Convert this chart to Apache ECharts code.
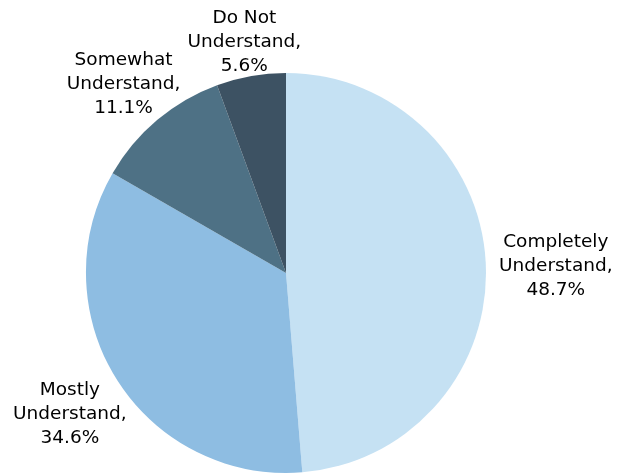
<!DOCTYPE html>
<html>
<head>
<meta charset="utf-8">
<script src="https://cdn.jsdelivr.net/npm/echarts@6/dist/echarts.min.js"></script>
<style>html,body{margin:0;padding:0;background:#fff}#c{width:625px;height:475px}</style>
</head>
<body>
<div id="c"></div>
<script>
const categories = ['Completely\nUnderstand', 'Mostly\nUnderstand', 'Somewhat\nUnderstand', 'Do Not\nUnderstand'];
const values = [48.7, 34.6, 11.1, 5.6];
const colors = ['#C5E1F3', '#8EBDE2', '#4E7185', '#3D5263'];

const CX = 286, CY = 273, R = 200;
// distance of each label's centre from the pie centre, along its slice's mid-angle
const labelDist = [270, 256, 252, 238];
const labelDy = 4;

const total = values.reduce((a, b) => a + b, 0);
const midAngles = [];
let acc = 0;
values.forEach(v => { midAngles.push((acc + v / 2) / total * 2 * Math.PI); acc += v; });

const chart = echarts.init(document.getElementById('c'), null, {renderer: 'canvas'});
chart.setOption({
  animation: false,
  backgroundColor: '#fff',
  series: [{
    type: 'pie',
    center: [CX, CY],
    radius: R,
    startAngle: 90,
    clockwise: true,
    data: categories.map((c, i) => ({name: c, value: values[i], itemStyle: {color: colors[i]}})),
    itemStyle: {borderWidth: 0},
    label: {
      show: true,
      position: 'outside',
      formatter: p => p.name + ',\n' + p.value.toFixed(1) + '%',
      fontFamily: 'DejaVu Sans',
      fontSize: 18.5,
      lineHeight: 24,
      color: '#000',
      overflow: 'none'
    },
    labelLine: {show: false, length: 10, length2: 0},
    labelLayout: function (p) {
      const i = p.dataIndex, a = midAngles[i], d = labelDist[i];
      return {
        x: CX + Math.sin(a) * d,
        y: CY - Math.cos(a) * d + labelDy,
        align: 'center',
        verticalAlign: 'middle'
      };
    }
  }]
});
</script>
</body>
</html>
